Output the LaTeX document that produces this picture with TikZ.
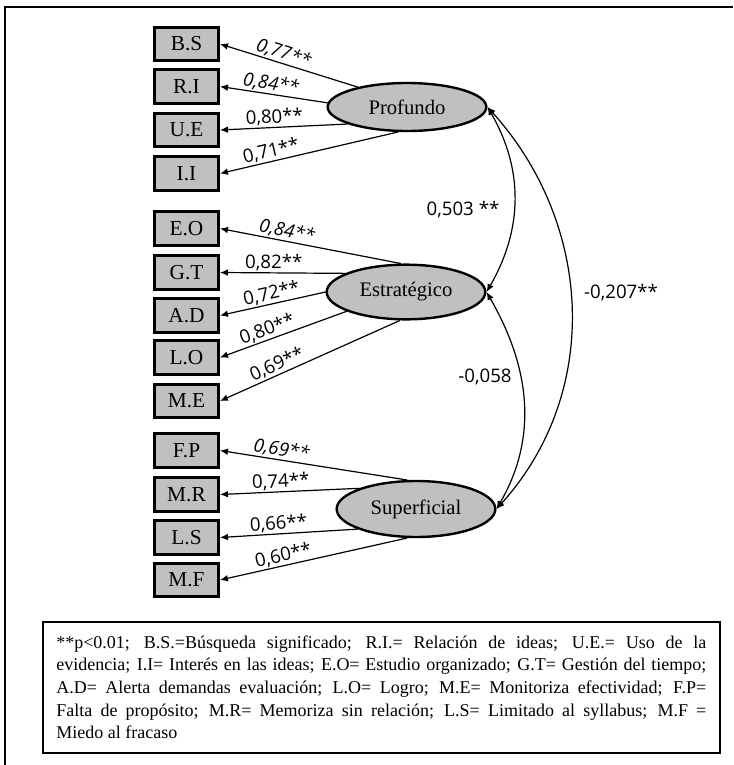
\documentclass[tikz,border=0pt]{standalone}
\usepackage{fontspec}
\setmainfont{Liberation Serif}
\newfontfamily\numfont{Open Sans}
\usetikzlibrary{shapes.geometric,arrows.meta}
\definecolor{boxgray}{RGB}{192,192,192}

\begin{document}
\begin{tikzpicture}[x=0.75pt,y=-0.75pt,
  item/.style={draw,line width=2.2pt,fill=boxgray,minimum width=48pt,minimum height=25pt,inner sep=0pt,font=\fontsize{16}{18}\selectfont},
  factor/.style={ellipse,draw,line width=1.8pt,fill=boxgray,minimum width=119pt,inner sep=0pt,font=\fontsize{15.5}{18}\selectfont},
  load/.style={-{Latex[length=6pt,width=5pt]},line width=0.9pt},
  cov/.style={{Latex[length=6pt,width=5pt]}-{Latex[length=6pt,width=5pt]},line width=0.9pt},
  coef/.style={sloped,above,inner sep=1pt,font=\numfont\fontsize{14}{16}\selectfont},
  coefit/.style={coef,font=\numfont\itshape\fontsize{14}{16}\selectfont},
  corr/.style={font=\numfont\fontsize{14}{16}\selectfont},
  legend/.style={draw,line width=1.5pt,text width=487.5pt,minimum height=98pt,inner xsep=10pt,inner ysep=6.5pt,align=justify,font=\fontsize{13.5}{17}\selectfont}]
\useasboundingbox (0,0) rectangle (733,765);
\draw[line width=1.5pt] (733,7) -- (5,7) -- (5,765);

% observed variables
\foreach \n/\t/\y in {bs/B.S/44,ri/R.I/86.5,ue/U.E/130,ii/I.I/173.5,eo/E.O/228.5,gt/G.T/272.5,ad/A.D/315.5,lo/L.O/357.5,me/M.E/401,fp/F.P/450.5,mr/M.R/494.5,ls/L.S/537.5,mf/M.F/580}{
\node[item] (\n) at (186.5,\y) {\t};
}

% factors
\node[factor,minimum height=36pt] (prof) at (407,107) {Profundo};
\node[factor,minimum height=41pt] (estr) at (406,292) {Estratégico};
\node[factor,minimum height=42pt] (sup) at (416,509) {Superficial};

\draw[load] (prof.158) -- node[coefit,pos=0.56] (lbs) {0,77**} (bs.east);
\draw[load] (prof.177) -- node[coefit,pos=0.54] (lri) {0,84**} (ri.east);
\draw[load] (prof.196) -- node[coef,pos=0.57] (lue) {0,80**} (ue.east);
\draw[load] (prof.250) -- node[coef,pos=0.70] (lii) {0,71**} (ii.east);

\draw[load] (estr.100) -- node[coefit,pos=0.64] (leo) {0,84**} (eo.east);
\draw[load] (estr.163) -- node[coef,pos=0.57] (lgt) {0,82**} (gt.east);
\draw[load] (estr.180) -- node[coef,pos=0.49] (lad) {0,72**} (ad.east);
\draw[load] (estr.198) -- node[coef,pos=0.60] (llo) {0,80**} (lo.east);
\draw[load] (estr.258) -- node[coef,pos=0.66] (lme) {0,69**} (me.east);

\draw[load] (sup.107) -- node[coefit,pos=0.68] (lfp) {0,69**} (fp.east);
\draw[load] (sup.160) -- node[coef,pos=0.56] (lmr) {0,74**} (mr.east);
\draw[load] (sup.199) -- node[coef,pos=0.57] (lls) {0,66**} (ls.east);
\draw[load] (sup.253) -- node[coef,pos=0.65] (lmf) {0,60**} (mf.east);

% correlations
\draw[cov] (prof.east) to[out=-60,in=60] (estr.east);
\draw[cov] (estr.east) to[out=-60,in=60] (sup.east);
\draw[cov] (prof.east) to[out=-48,in=48] (sup.east);
\node[corr] (r12) at (463,210) {0,503 **};
\node[corr] (r23) at (485,377) {-0,058};
\node[corr] (r13) at (621,293) {-0,207**};

\node[legend,anchor=north west] (nota) at (42,621) {\hyphenpenalty=10000\exhyphenpenalty=10000
**p<0.01; B.S.=Búsqueda significado; R.I.= Relación de ideas; U.E.= Uso de la\linebreak
evidencia; I.I= Interés en las ideas; E.O= Estudio organizado; G.T= Gestión del tiempo;\linebreak
A.D= Alerta demandas evaluación; L.O= Logro; M.E= Monitoriza efectividad; F.P=\linebreak
Falta de propósito; M.R= Memoriza sin relación; L.S= Limitado al syllabus; M.F =\linebreak
Miedo al fracaso};
\end{tikzpicture}
\end{document}
